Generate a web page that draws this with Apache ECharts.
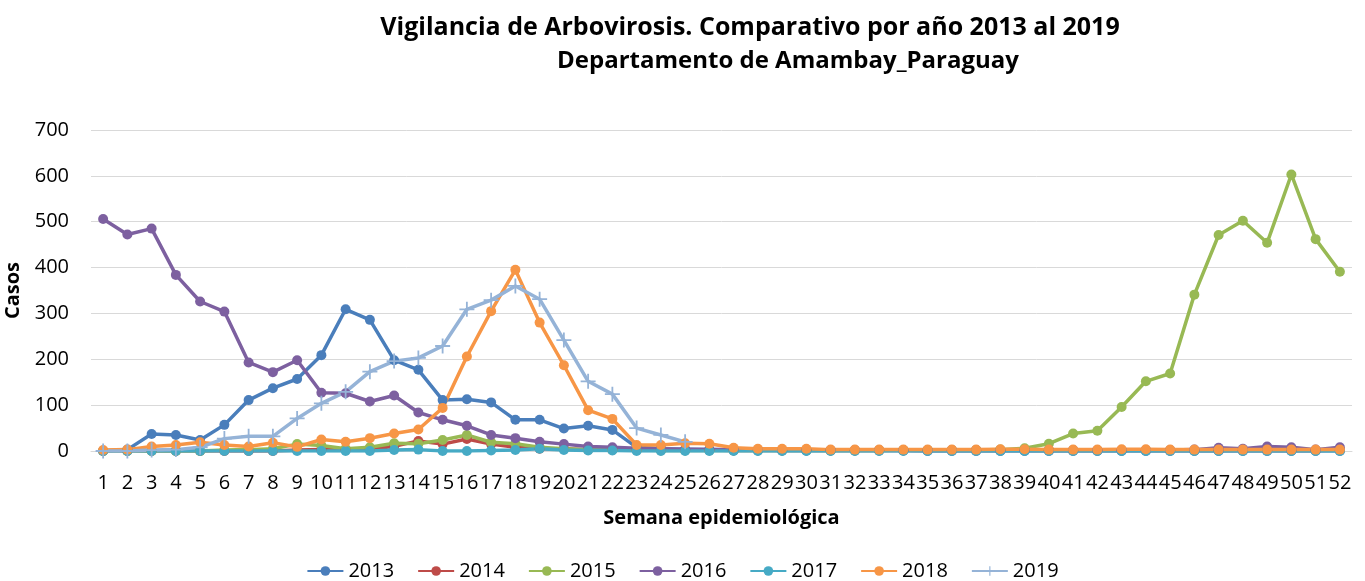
<!DOCTYPE html>
<html>
<head>
<meta charset="utf-8">
<title>Vigilancia de Arbovirosis</title>
<script src="https://cdn.jsdelivr.net/npm/echarts@6.0.0/dist/echarts.min.js"></script>
<style>
  html, body { margin: 0; padding: 0; background: #fff; }
  #chart { width: 1365px; height: 581px; }
</style>
</head>
<body>
<div id="chart"></div>
<script>
// semanas epidemiológicas 1..52
const weeks = ['1','2','3','4','5','6','7','8','9','10','11','12','13','14','15','16','17','18','19','20','21','22','23','24','25','26',
  '27','28','29','30','31','32','33','34','35','36','37','38','39','40','41','42','43','44','45','46','47','48','49','50','51','52']

const years = ['2013', '2014', '2015', '2016', '2017', '2018', '2019']

// casos por semana
const cases2013 = [0, 3, 37, 35, 24, 57, 111, 137, 157, 209, 309, 286, 198, 177, 111, 113, 106, 68, 68, 49, 55, 46, 8, 5, 4, 3,
  2, 2, 1, 1, 1, 1, 1, 1, 0, 0, 0, 0, 0, 0, 0, 0, 0, 0, 0, 0, 0, 0, 0, 0, 0, 0]
const cases2014 = [0, 0, 0, 0, 0, 0, 0, 0, 2, 3, 3, 5, 10, 22, 15, 26, 15, 8, 5, 5, 3, 3, 2, 2, 2, 2,
  1, 1, 1, 1, 1, 1, 1, 1, 1, 1, 1, 1, 1, 1, 1, 1, 1, 1, 1, 1, 1, 1, 1, 1, 1, 2]
const cases2015 = [0, 0, 0, 0, 0, 2, 3, 5, 15, 12, 5, 8, 17, 16, 24, 35, 19, 16, 8, 5, 3, 2, 2, 1, 1, 1,
  1, 1, 1, 1, 1, 1, 1, 2, 2, 2, 2, 3, 6, 16, 38, 44, 96, 152, 169, 341, 471, 502, 454, 603, 462, 391]
const cases2016 = [506, 472, 485, 384, 326, 304, 193, 172, 198, 127, 126, 108, 121, 84, 68, 55, 35, 28, 20, 15, 10, 8, 6, 5, 4, 3,
  3, 2, 2, 2, 2, 2, 2, 2, 2, 2, 2, 2, 2, 2, 2, 2, 2, 2, 2, 3, 7, 5, 10, 8, 3, 8]
const cases2017 = [0, 0, 0, 0, 0, 0, 0, 0, 0, 0, 0, 0, 2, 3, 0, 0, 1, 2, 5, 2, 1, 1, 0, 0, 0, 0,
  0, 0, 0, 0, 0, 0, 0, 0, 0, 0, 0, 0, 0, 0, 0, 0, 0, 0, 0, 0, 0, 0, 0, 0, 0, 0]
const cases2018 = [2, 3, 10, 13, 19, 13, 10, 18, 9, 25, 20, 28, 38, 47, 94, 206, 305, 395, 280, 187, 89, 70, 13, 13, 17, 16,
  7, 5, 5, 5, 3, 3, 3, 3, 3, 3, 3, 4, 4, 3, 3, 3, 4, 4, 3, 3, 3, 3, 3, 3, 3, 3]
const cases2019 = [0, 0, 2, 3, 8, 27, 32, 32, 71, 104, 129, 173, 196, 203, 229, 309, 329, 360, 331, 242, 152, 124, 50, 35, 20]

const yTicks = [0, 100, 200, 300, 400, 500, 600, 700]

const colors = ['#4a7ebb', '#be4b48', '#98b954', '#7d60a0', '#46aac5', '#f79646', '#95b3d7']
const seriesData = [cases2013, cases2014, cases2015, cases2016, cases2017, cases2018, cases2019]

// marcador "+" para 2019
const plusSymbol = 'path://M4.4,0 L5.6,0 L5.6,4.4 L10,4.4 L10,5.6 L5.6,5.6 L5.6,10 L4.4,10 L4.4,5.6 L0,5.6 L0,4.4 L4.4,4.4 Z'

const chart = echarts.init(document.getElementById('chart'))
const fontFamily = '"Open Sans", "Noto Sans", sans-serif'

const option = {
  animation: false,
  color: colors,
  textStyle: { fontFamily },
  title: [
    {
      text: 'Vigilancia de Arbovirosis. Comparativo por año 2013 al 2019',
      left: 745,
      top: 10,
      textAlign: 'center',
      textStyle: { fontSize: 25, fontWeight: 'bold', color: '#000', fontFamily }
    },
    {
      text: 'Departamento de Amambay_Paraguay',
      left: 783,
      top: 44,
      textAlign: 'center',
      textStyle: { fontSize: 24, fontWeight: 'bold', color: '#000', fontFamily }
    }
  ],
  legend: {
    bottom: 0,
    left: 'center',
    padding: 0,
    itemWidth: 36,
    itemHeight: 12,
    itemGap: 23,
    textStyle: { fontSize: 20, color: '#000', fontFamily },
    data: years
  },
  grid: {
    left: 91,
    right: 13,
    top: 130,
    bottom: 130,
    outerBoundsMode: 'none'
  },
  xAxis: {
    type: 'category',
    data: weeks,
    boundaryGap: true,
    name: 'Semana epidemiológica',
    nameLocation: 'middle',
    nameGap: 57,
    nameTextStyle: { fontSize: 20, fontWeight: 'bold', color: '#000' },
    axisLine: { lineStyle: { color: '#d9d9d9' } },
    axisTick: { show: false },
    axisLabel: { interval: 0, fontSize: 20, color: '#000', margin: 22 }
  },
  yAxis: {
    type: 'value',
    min: yTicks[0],
    max: yTicks[yTicks.length - 1],
    interval: 100,
    name: 'Casos',
    nameLocation: 'middle',
    nameGap: 58,
    nameTextStyle: { fontSize: 20, fontWeight: 'bold', color: '#000' },
    axisLabel: { fontSize: 20, color: '#000', margin: 22 },
    splitLine: { lineStyle: { color: '#d9d9d9' } }
  },
  series: years.map((y, i) => ({
    name: y,
    type: 'line',
    data: seriesData[i],
    symbol: i === 6 ? plusSymbol : 'circle',
    symbolSize: i === 6 ? 15 : 10,
    showAllSymbol: true,
    lineStyle: { width: 3.5, color: colors[i] },
    itemStyle: { color: colors[i] }
  }))
}

chart.setOption(option)
</script>
</body>
</html>
